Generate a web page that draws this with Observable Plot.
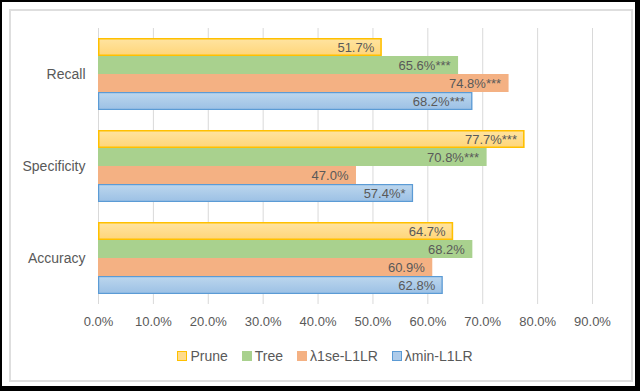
<!DOCTYPE html>
<html><head><meta charset="utf-8">
<script src="https://cdn.jsdelivr.net/npm/d3@7"></script>
<script src="https://cdn.jsdelivr.net/npm/@observablehq/plot@0.6"></script>
<style>
body{margin:0;background:#fff;}
#wrap{position:relative;width:640px;height:391px;box-sizing:border-box;border-style:solid;border-color:#000;border-width:2px 5px 5px 2px;overflow:hidden;background:#fff;font-family:"Liberation Sans",Arial,sans-serif;}
#inner{position:absolute;left:7px;top:7px;width:620px;height:369px;border:2px solid #dedede;}
#chart{position:absolute;left:-2px;top:-2px;width:640px;height:340px;}
#chart svg{max-width:none !important;width:640px;height:340px;}
#legend{position:absolute;left:8px;top:346px;width:630px;display:flex;justify-content:center;align-items:center;gap:14px;font-size:14px;color:#595959;}
.item{display:flex;align-items:center;}
.sw{width:10px;height:10px;box-sizing:border-box;margin-right:3px;}
</style></head>
<body>
<div id="wrap"><div id="inner"></div><div id="chart"></div><div id="legend"></div></div>
<script>
const categories = ["Recall", "Specificity", "Accuracy"];
const series = ["Prune", "Tree", "λ1se-L1LR", "λmin-L1LR"];
const prune = [0.517, 0.777, 0.647];
const tree = [0.656, 0.708, 0.682];
const l1se = [0.748, 0.470, 0.609];
const lmin = [0.682, 0.574, 0.628];
const pruneSig = ["", "***", ""];
const treeSig = ["***", "***", ""];
const l1seSig = ["***", "", ""];
const lminSig = ["***", "*", ""];
const xTicks = [0, 0.1, 0.2, 0.3, 0.4, 0.5, 0.6, 0.7, 0.8, 0.9];

const fills = ["url(#gPrune)", "#A9D18E", "#F4B183", "url(#gMin)"];
const swatchFills = ["#FFDC8C", "#A9D18E", "#F4B183", "#ADCBEA"];
const swatchStrokes = ["#FFC000", "#A9D18E", "#F4B183", "#5B9BD5"];

const values = [prune, tree, l1se, lmin];
const sigs = [pruneSig, treeSig, l1seSig, lminSig];
const rows = series.flatMap((s, i) => categories.map((c, j) => ({series: s, category: c, value: values[i][j], sig: sigs[i][j]})));

const pct = d3.format(".1%");
const font = "Liberation Sans, Arial, sans-serif";

const chart = Plot.plot({
  width: 640, height: 340,
  marginLeft: 98, marginRight: 48, marginTop: 28, marginBottom: 36,
  style: {fontFamily: font, fontSize: "13px", background: "transparent", overflow: "visible"},
  x: {domain: [0, 0.9], label: null},
  y: {domain: series, axis: null, paddingInner: 0, paddingOuter: 0.52},
  fy: {domain: categories, padding: 0, label: null, axis: null},
  color: {domain: series, range: fills},
  marks: [
    Plot.gridX(xTicks, {stroke: "#D9D9D9", strokeOpacity: 1}),
    Plot.barX(rows, {fy: "category", y: "series", x: "value", fill: "series"}),
    Plot.barX(rows.filter(d => d.series === series[0]), {fy: "category", y: "series", x: "value", fill: "none", stroke: "#FFC000", strokeWidth: 1.5, inset: 0.75}),
    Plot.barX(rows.filter(d => d.series === series[3]), {fy: "category", y: "series", x: "value", fill: "none", stroke: "#5B9BD5", strokeWidth: 1.2, inset: 0.6}),
    Plot.text(rows, {fy: "category", y: "series", x: "value", text: d => pct(d.value) + d.sig, textAnchor: "end", dx: -8, fill: "#595959", fontSize: 13}),
    Plot.axisX({ticks: xTicks, tickFormat: pct, tickSize: 0, tickPadding: 12, fill: "#595959", fontSize: 13, label: null}),
    Plot.axisFy({anchor: "left", tickSize: 0, tickPadding: 13, fill: "#595959", fontSize: 14, label: null})
  ]
});

const svg = d3.select(chart);
const defs = svg.insert("defs", ":first-child");
const g1 = defs.append("linearGradient").attr("id", "gPrune").attr("x1", 0).attr("y1", 0).attr("x2", 0).attr("y2", 1);
g1.append("stop").attr("offset", "0%").attr("stop-color", "#FFE4A2");
g1.append("stop").attr("offset", "100%").attr("stop-color", "#FFD578");
const g2 = defs.append("linearGradient").attr("id", "gMin").attr("x1", 0).attr("y1", 0).attr("x2", 0).attr("y2", 1);
g2.append("stop").attr("offset", "0%").attr("stop-color", "#BDD7EE");
g2.append("stop").attr("offset", "100%").attr("stop-color", "#9BC0E5");
document.getElementById("chart").appendChild(chart);

const legend = d3.select("#legend");
series.forEach((s, i) => {
  const it = legend.append("div").attr("class", "item");
  it.append("div").attr("class", "sw").style("background", swatchFills[i]).style("border", "1px solid " + swatchStrokes[i]);
  it.append("span").text(s);
});
</script>
</body></html>
